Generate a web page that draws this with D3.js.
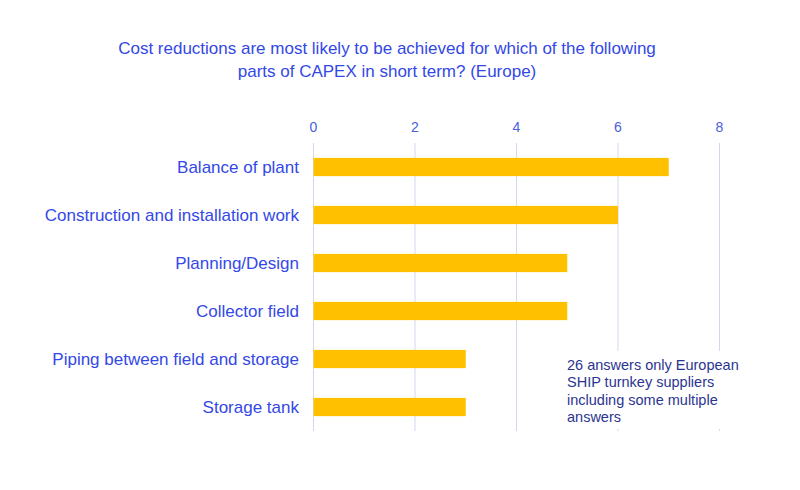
<!DOCTYPE html>
<html>
<head>
<meta charset="utf-8">
<script src="https://cdn.jsdelivr.net/npm/d3@7"></script>
<style>
  body { margin: 0; background: #fff; }
  text { font-family: "Liberation Sans", Arial, sans-serif; }
</style>
</head>
<body>
<div id="chart"></div>
<script>
'use strict';

// Adatok
var categories = ["Balance of plant", "Construction and installation work", "Planning/Design",
	"Collector field", "Piping between field and storage", "Storage tank"];
var values = [7, 6, 5, 5, 3, 3];
var tickValues = [0, 2, 4, 6, 8];
var titleLines = ["Cost reductions are most likely to be achieved for which of the following",
	"parts of CAPEX in short term? (Europe)"];
var noteLines = ["26 answers only European", "SHIP turnkey suppliers", "including some multiple", "answers"];

var W = 800, H = 490;
var margin = {top: 143, left: 313.5, right: 80.5, bottom: 59};

var svg = d3.select("#chart").append("svg")
		.attr("width", W)
		.attr("height", H);

svg.append("rect").attr("width", W).attr("height", H).attr("fill", "#fff");

var x = d3.scaleLinear().domain([0, 8]).range([margin.left, W - margin.right]);
var y = d3.scaleBand().domain(categories).range([margin.top, H - margin.bottom]).paddingInner(0.62).paddingOuter(0.31);

// Cím
svg.append("g").selectAll("text").data(titleLines)
		.enter().append("text")
		.attr("x", 387)
		.attr("y", function(d, i) { return 54 + i * 23; })
		.attr("text-anchor", "middle")
		.attr("font-size", 17)
		.attr("fill", "#3348e6")
		.text(function(d) { return d; });

// Rácsvonalak
svg.append("g").selectAll("line").data(tickValues)
		.enter().append("line")
		.attr("x1", function(d) { return x(d); })
		.attr("x2", function(d) { return x(d); })
		.attr("y1", margin.top)
		.attr("y2", H - margin.bottom)
		.attr("stroke", "#d3d7f2")
		.attr("stroke-width", 1);

// Tengelyfeliratok
svg.append("g").selectAll("text").data(tickValues)
		.enter().append("text")
		.attr("x", function(d) { return x(d); })
		.attr("y", 132)
		.attr("text-anchor", "middle")
		.attr("font-size", 14)
		.attr("fill", "#4a5ee0")
		.text(function(d) { return d; });

// Oszlopok
svg.append("g").selectAll("rect").data(values)
		.enter().append("rect")
		.attr("x", x(0))
		.attr("y", function(d, i) { return y(categories[i]); })
		.attr("width", function(d) { return x(d) - x(0); })
		.attr("height", y.bandwidth())
		.attr("fill", "#ffc000");

// Kategóriák
svg.append("g").selectAll("text").data(categories)
		.enter().append("text")
		.attr("x", 299)
		.attr("y", function(d) { return y(d) + y.bandwidth() / 2; })
		.attr("dy", "0.36em")
		.attr("text-anchor", "end")
		.attr("font-size", 17)
		.attr("fill", "#3348e6")
		.text(function(d) { return d; });

// Megjegyzés doboz
svg.append("rect")
		.attr("x", 556)
		.attr("y", 351)
		.attr("width", 172)
		.attr("height", 78)
		.attr("fill", "#fff");

svg.append("g").selectAll("text").data(noteLines)
		.enter().append("text")
		.attr("x", 567)
		.attr("y", function(d, i) { return 370 + i * 17.3; })
		.attr("font-size", 14.5)
		.attr("fill", "#2b3590")
		.text(function(d) { return d; });
</script>
</body>
</html>
